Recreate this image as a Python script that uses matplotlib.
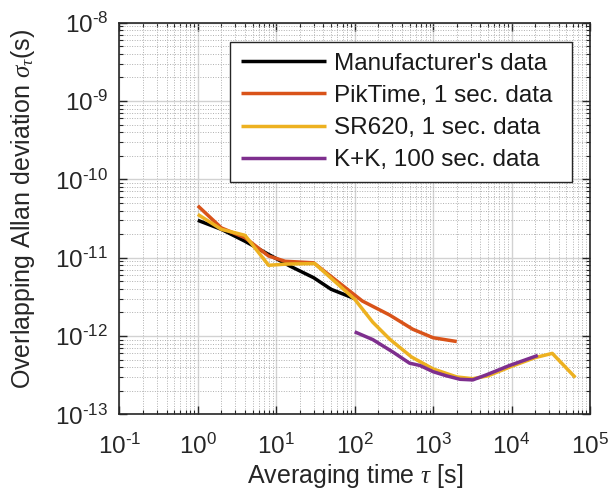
import matplotlib
matplotlib.use("Agg")
import numpy as np
import matplotlib.pyplot as plt
from matplotlib.ticker import LogLocator, NullFormatter, FuncFormatter

plt.rcParams["font.family"] = ["Liberation Sans", "DejaVu Sans"]
plt.rcParams["mathtext.fontset"] = "custom"
plt.rcParams["mathtext.rm"] = "Liberation Sans"
plt.rcParams["mathtext.it"] = "Liberation Serif:italic"
plt.rcParams["mathtext.bf"] = "Liberation Sans:bold"

# Overlapping Allan deviation vs. averaging time
manuf_tau = [1, 2, 4, 8, 15, 30, 50, 100]
manuf_adev = [3.0e-11, 2.3e-11, 1.62e-11, 1.1e-11, 7.8e-12, 5.55e-12, 3.95e-12, 3.0e-12]

pik_tau = [1, 2, 4, 8, 13, 30, 125, 280, 550, 1000, 2000]
pik_adev = [4.6e-11, 2.4e-11, 1.8e-11, 1.05e-11, 9.0e-12, 8.6e-12,
            2.8e-12, 1.85e-12, 1.22e-12, 9.5e-13, 8.5e-13]

sr_tau = [1, 2, 4, 8, 14, 31, 100, 170, 280, 530, 1000, 2000, 3200,
          5000, 10000, 20000, 33000, 65000]
sr_adev = [3.57e-11, 2.3e-11, 1.93e-11, 8.0e-12, 8.3e-12, 8.4e-12, 2.95e-12,
           1.5e-12, 9.1e-13, 5.4e-13, 3.8e-13, 3.0e-13, 2.85e-13, 3.1e-13,
           4.1e-13, 5.3e-13, 6.0e-13, 2.95e-13]

kk_tau = [100, 170, 310, 500, 680, 1000, 1480, 2200, 3200, 4800, 9400, 21600]
kk_adev = [1.13e-12, 9.0e-13, 6.2e-13, 4.5e-13, 4.2e-13, 3.5e-13, 3.1e-13,
           2.8e-13, 2.75e-13, 3.2e-13, 4.2e-13, 5.65e-13]

series_labels = ["Manufacturer's data", "PikTime, 1 sec. data",
                 "SR620, 1 sec. data", "K+K, 100 sec. data"]
series_colors = ["#000000", "#D95319", "#EDB120", "#7E2F8E"]


def decade_label(v, pos):
    # power-of-ten label with a plain hyphen in the exponent
    e = int(np.round(np.log10(v)))
    return r"$\mathdefault{10^{\text{%d}}}$" % e


fig = plt.figure(figsize=(6.11, 4.93), dpi=100)
ax = fig.add_axes([0.1953, 0.1596, 0.7704, 0.7943])

for (t, a), lab, col in zip([(manuf_tau, manuf_adev), (pik_tau, pik_adev),
                             (sr_tau, sr_adev), (kk_tau, kk_adev)],
                            series_labels, series_colors):
    ax.loglog(t, a, color=col, lw=2.5, label=lab, solid_capstyle="butt")

ax.set_xlim(1e-1, 1e5)
ax.set_ylim(1e-13, 1e-8)

ax.xaxis.set_major_locator(LogLocator(base=10, numticks=20))
ax.yaxis.set_major_locator(LogLocator(base=10, numticks=20))
ax.xaxis.set_minor_locator(LogLocator(base=10, subs=range(2, 10), numticks=100))
ax.yaxis.set_minor_locator(LogLocator(base=10, subs=range(2, 10), numticks=100))
ax.xaxis.set_major_formatter(FuncFormatter(decade_label))
ax.yaxis.set_major_formatter(FuncFormatter(decade_label))
ax.xaxis.set_minor_formatter(NullFormatter())
ax.yaxis.set_minor_formatter(NullFormatter())

ax.grid(True, which="major", color="#d2d2d2", lw=1.0, ls="-")
ax.grid(True, which="minor", color="#b0b0b0", lw=0.7, ls=(0, (1, 1.6)))
ax.set_axisbelow(True)

ax.tick_params(which="both", direction="in", top=True, right=True,
               colors="#262626", labelcolor="#262626")
ax.tick_params(which="major", length=5.5, width=1.0, labelsize=17.5)
ax.tick_params(axis="y", which="major", pad=8)
ax.tick_params(axis="x", which="major", pad=14)
ax.tick_params(which="minor", length=3, width=0.8)
for s in ax.spines.values():
    s.set_color("#262626")
    s.set_linewidth(1.2)

ax.set_xlabel(r"Averaging time $\tau$ [s]", fontsize=18, color="#262626",
              labelpad=2)
ax.set_ylabel(r"Overlapping Allan deviation $\sigma_\tau$(s)", fontsize=18,
              color="#262626")
ax.yaxis.set_label_coords(-0.175, 0.525)

y_bot = 0.598
leg = ax.legend(loc="upper left", bbox_to_anchor=(0.235, y_bot, 0.726, 0.9515 - y_bot),
                mode="expand", borderaxespad=0, fontsize=17.5, handlelength=3.5,
                handletextpad=0.33, labelspacing=0.42, borderpad=0.45,
                fancybox=False, framealpha=1, edgecolor="#262626")
leg.get_frame().set_linewidth(1.0)
for txt in leg.get_texts():
    txt.set_color("#1a1a1a")

fig.savefig("out.png", dpi=100)
